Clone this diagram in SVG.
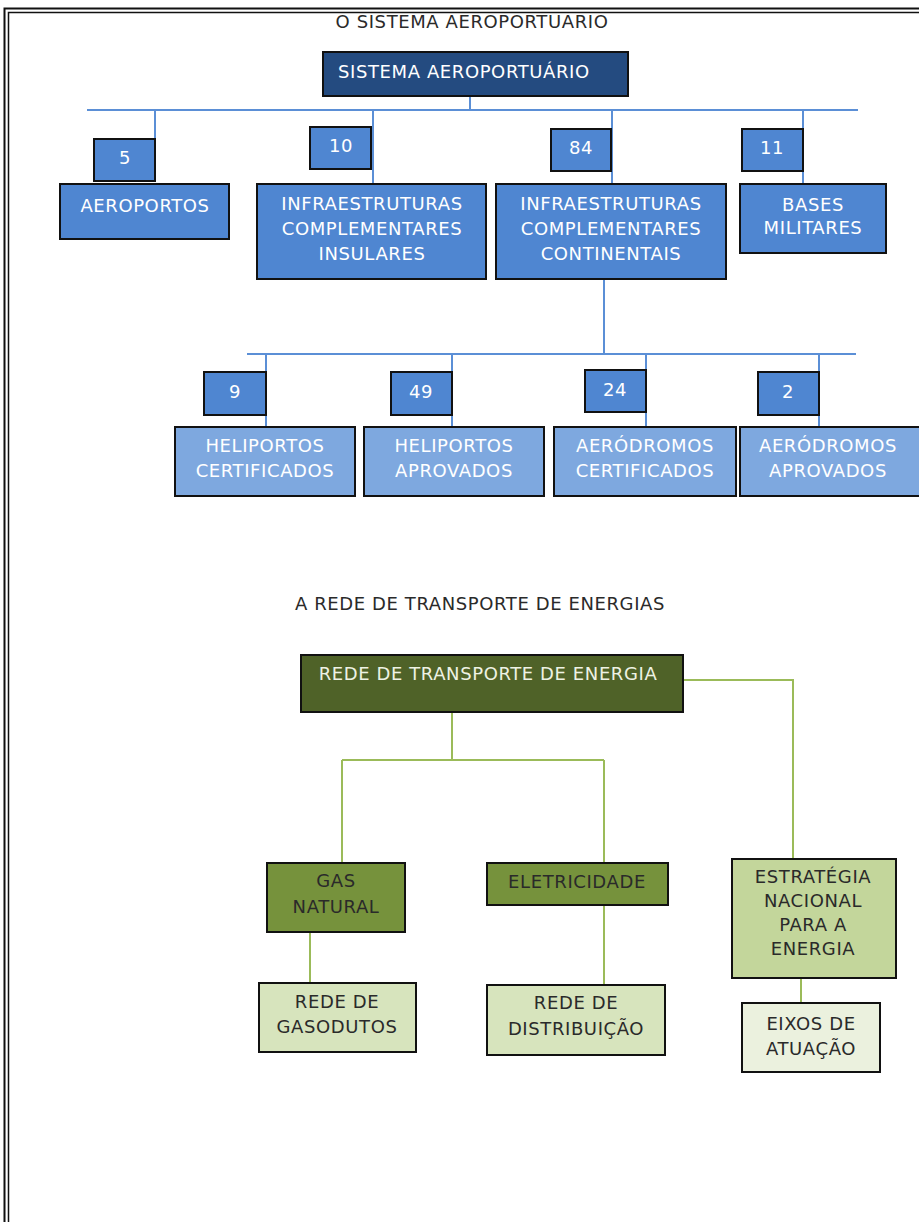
<svg xmlns="http://www.w3.org/2000/svg" width="919" height="1222" viewBox="0 0 919 1222">
<style>
text{font-family:"DejaVu Sans","Liberation Sans",sans-serif;font-size:18px;letter-spacing:0.6px;text-anchor:middle}
.box{stroke:#111;stroke-width:2}
.b0{fill:#244b80}
.b1{fill:#4f86d1}
.b2{fill:#7ea8df}
.w{fill:#fff}
.g0{fill:#4f6228}
.g1{fill:#76923c}
.g2{fill:#c3d69b}
.g3{fill:#d7e4bd}
.g4{fill:#ebf1de}
.dk{fill:#2a2a2a}
.cb{stroke:#5b8fd6;stroke-width:2;fill:none}
.cg{stroke:#9bbb59;stroke-width:2;fill:none}
</style>
<defs><clipPath id="clip"><rect x="9" y="14" width="910" height="1208"/></clipPath></defs>
<rect width="919" height="1222" fill="#fff"/>
<rect x="4.5" y="8.5" width="930" height="1230" fill="none" stroke="#111" stroke-width="2"/>
<rect x="8.5" y="12.5" width="930" height="1230" fill="none" stroke="#111" stroke-width="1.5"/>
<g clip-path="url(#clip)">
<text x="472" y="28" class="dk">O SISTEMA AEROPORTUÁRIO</text>
</g>
<g id="connectors">
<path class="cb" d="M470 96V110M87 110H858M155 110V139M373 110V184M612 110V184M803 110V184"/>
<path class="cb" d="M604 279V354M247 354H856M266 354V427M452 354V427M646 354V427M819 354V427"/>
<path class="cg" d="M683 680H793V859M452 712V760M342 760H604M342 760V863M604 760V863M310 932V983M604 905V985M801 978V1003"/>
</g>
<g id="n-root"><rect class="box b0" x="323" y="52" width="305" height="44"/><text x="338" y="78" class="w" style="text-anchor:start">SISTEMA AEROPORTUÁRIO</text></g>
<g id="n-5"><rect class="box b1" x="94" y="139" width="61" height="42"/><text x="125" y="164" class="w">5</text></g>
<g id="n-aeroportos"><rect class="box b1" x="60" y="184" width="169" height="55"/><text x="145" y="212" class="w">AEROPORTOS</text></g>
<g id="n-10"><rect class="box b1" x="310" y="127" width="61" height="42"/><text x="341" y="152" class="w">10</text></g>
<g id="n-insulares"><rect class="box b1" x="257" y="184" width="229" height="95"/><text x="372" y="210" class="w">INFRAESTRUTURAS</text><text x="372" y="235" class="w">COMPLEMENTARES</text><text x="372" y="260" class="w">INSULARES</text></g>
<g id="n-84"><rect class="box b1" x="551" y="129" width="60" height="42"/><text x="581" y="154" class="w">84</text></g>
<g id="n-continentais"><rect class="box b1" x="496" y="184" width="230" height="95"/><text x="611" y="210" class="w">INFRAESTRUTURAS</text><text x="611" y="235" class="w">COMPLEMENTARES</text><text x="611" y="260" class="w">CONTINENTAIS</text></g>
<g id="n-11"><rect class="box b1" x="742" y="129" width="61" height="42"/><text x="772" y="154" class="w">11</text></g>
<g id="n-bases"><rect class="box b1" x="740" y="184" width="146" height="69"/><text x="813" y="211" class="w">BASES</text><text x="813" y="234" class="w">MILITARES</text></g>
<g id="n-9"><rect class="box b1" x="204" y="372" width="62" height="43"/><text x="235" y="398" class="w">9</text></g>
<g id="n-heli-cert"><rect class="box b2" x="175" y="427" width="180" height="69"/><text x="265" y="452" class="w">HELIPORTOS</text><text x="265" y="477" class="w">CERTIFICADOS</text></g>
<g id="n-49"><rect class="box b1" x="391" y="372" width="61" height="43"/><text x="421" y="398" class="w">49</text></g>
<g id="n-heli-aprov"><rect class="box b2" x="364" y="427" width="180" height="69"/><text x="454" y="452" class="w">HELIPORTOS</text><text x="454" y="477" class="w">APROVADOS</text></g>
<g id="n-24"><rect class="box b1" x="585" y="370" width="61" height="42"/><text x="615" y="396" class="w">24</text></g>
<g id="n-aero-cert"><rect class="box b2" x="554" y="427" width="182" height="69"/><text x="645" y="452" class="w">AERÓDROMOS</text><text x="645" y="477" class="w">CERTIFICADOS</text></g>
<g id="n-2"><rect class="box b1" x="758" y="372" width="61" height="43"/><text x="788" y="398" class="w">2</text></g>
<g id="n-aero-aprov"><rect class="box b2" x="740" y="427" width="185" height="69"/><text x="828" y="452" class="w">AERÓDROMOS</text><text x="828" y="477" class="w">APROVADOS</text></g>
<text x="480" y="610" class="dk">A REDE DE TRANSPORTE DE ENERGIAS</text>
<g id="n-rte"><rect class="box g0" x="301" y="655" width="382" height="57"/><text x="488" y="680" fill="#eef2e4">REDE DE TRANSPORTE DE ENERGIA</text></g>
<g id="n-gas"><rect class="box g1" x="267" y="863" width="138" height="69"/><text x="336" y="887" class="dk">GAS</text><text x="336" y="913" class="dk">NATURAL</text></g>
<g id="n-elet"><rect class="box g1" x="487" y="863" width="181" height="42"/><text x="577" y="888" class="dk">ELETRICIDADE</text></g>
<g id="n-enne"><rect class="box g2" x="732" y="859" width="164" height="119"/><text x="813" y="883" class="dk">ESTRATÉGIA</text><text x="813" y="907" class="dk">NACIONAL</text><text x="813" y="931" class="dk">PARA A</text><text x="813" y="955" class="dk">ENERGIA</text></g>
<g id="n-gasodutos"><rect class="box g3" x="259" y="983" width="157" height="69"/><text x="337" y="1008" class="dk">REDE DE</text><text x="337" y="1033" class="dk">GASODUTOS</text></g>
<g id="n-distrib"><rect class="box g3" x="487" y="985" width="178" height="70"/><text x="576" y="1009" class="dk">REDE DE</text><text x="576" y="1035" class="dk">DISTRIBUIÇÃO</text></g>
<g id="n-eixos"><rect class="box g4" x="742" y="1003" width="138" height="69"/><text x="811" y="1030" class="dk">EIXOS DE</text><text x="811" y="1055" class="dk">ATUAÇÃO</text></g>
</svg>
